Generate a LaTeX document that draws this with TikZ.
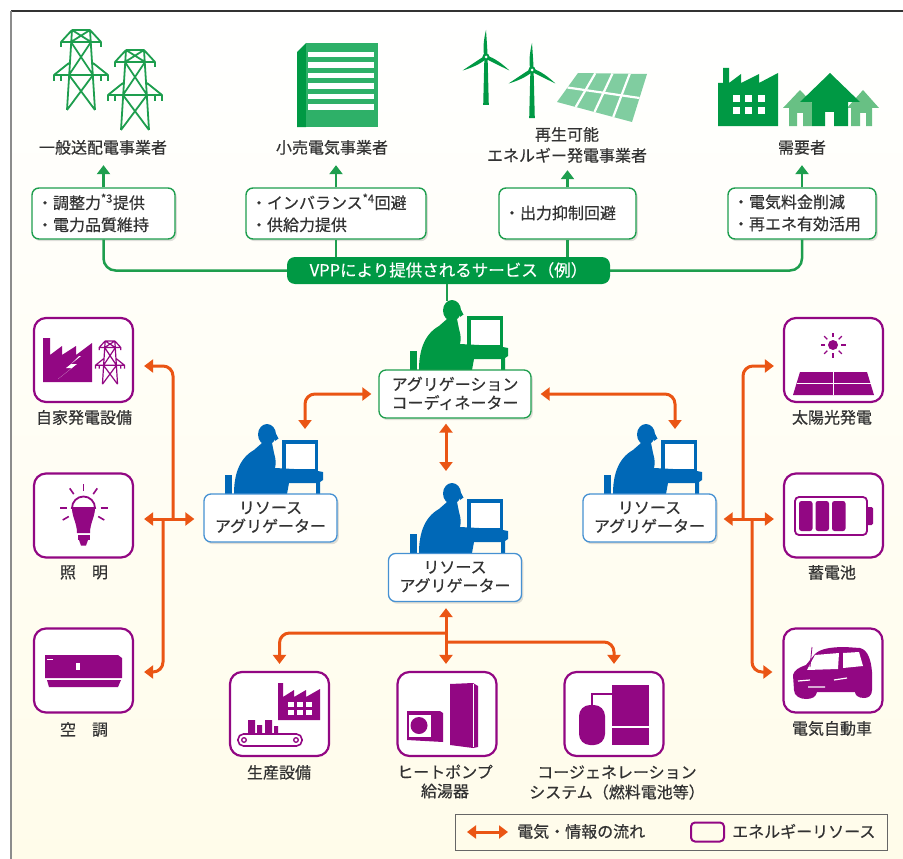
\documentclass[tikz,border=0pt]{standalone}
\usepackage{fontspec}
\newfontfamily\jpfont[FakeBold=0.45]{Noto Sans CJK JP}
\usetikzlibrary{arrows.meta,shadows,calc}

\definecolor{vgreen}{RGB}{0,153,68}
\definecolor{lgreen}{RGB}{30,158,78}
\definecolor{bgreen}{RGB}{46,176,104}
\definecolor{pgreen}{RGB}{128,205,160}
\definecolor{hgreen}{RGB}{104,192,132}
\definecolor{vblue}{RGB}{0,104,183}
\definecolor{bblue}{RGB}{70,145,210}
\definecolor{vorange}{RGB}{234,85,20}
\definecolor{vpurple}{RGB}{146,7,131}
\definecolor{txt}{RGB}{50,50,50}
\definecolor{cream}{RGB}{255,252,234}

% fixed line height for every text line
\newcommand{\linestrut}{\rule[-2.5pt]{0pt}{13.5pt}}

\tikzset{
  % lattice transmission tower, origin at the top of the cap
  pylon/.pic={
    \draw[line join=round]
      (-9,0) -- (9,0)
      (-9,0) -- (-14,80) (9,0) -- (14,80)
      (-9,0) -- (-20,12) -- (20,12) -- (9,0)
      (-20,12) -- (-20,17) (20,12) -- (20,17)
      (-12,33) -- (-27,45) -- (27,45) -- (12,33)
      (-27,45) -- (-27,51) (-20,45) -- (-20,51) (20,45) -- (20,51) (27,45) -- (27,51)
      (-9,0) -- (10,12) (9,0) -- (-10,12)
      (-10,12) -- (12,45) (10,12) -- (-12,45)
      (-12,45) -- (14,80) (12,45) -- (-14,80);
  },
  % wind turbine, origin at the hub
  turbine/.pic={
    \fill (-1.6,0) -- (1.6,0) -- (2.8,48) -- (-2.8,48) -- cycle;
    \foreach \a in {90,-30,210}{
      \fill[rotate=\a] (0,-1.6) .. controls (8,-3.4) and (18,-2.2) .. (27,0)
        .. controls (18,0.6) and (8,1.4) .. (0,1.6) -- cycle;
    }
    \fill (0,0) circle (3.6);
    \fill[white] (0,0) circle (1.5);
  },
  % operator at a desk, origin at the top-left corner
  worker/.pic={
    \fill (0,52) rectangle (7,71);
    \fill (57,17) rectangle (93,49);
    \fill[white] (60.5,20.5) rectangle (89.5,45.5);
    \fill (42,11.5) ellipse [x radius=9, y radius=10.5];
    \fill (49.5,8) -- (53.5,15.5) -- (50,18) -- cycle;
    \fill (9,71) .. controls (9,54) and (13,36) .. (29,27) -- (37,20) -- (47,20)
      -- (49,30) .. controls (51,36) and (51,41) .. (50,45) -- (88,47) -- (98,49)
      -- (98,57) -- (95,59) -- (95,71) -- (91,71) -- (91,60) -- (64,60) -- (62,71) -- cycle;
  },
  lbl/.style={font=\jpfont\fontsize{16}{19}\selectfont, text=txt, align=center, inner sep=0pt},
  svc/.style={draw=lgreen, line width=1.4pt, rounded corners=7pt, fill=white,
    drop shadow={shadow xshift=1.8pt, shadow yshift=-2.2pt, opacity=0.25},
    font=\jpfont\fontsize{16}{22}\selectfont, text=txt, align=left,
    inner xsep=5pt, inner ysep=0pt, minimum height=51pt},
  cbox/.style={draw=lgreen, line width=1.3pt, rounded corners=7pt, fill=white,
    drop shadow={shadow xshift=1.8pt, shadow yshift=-2.2pt, opacity=0.25},
    font=\jpfont\fontsize{16}{18.5}\selectfont, text=txt, align=center,
    inner sep=0pt, minimum height=48pt},
  abox/.style={cbox, draw=bblue, minimum width=133pt},
  vppbar/.style={fill=vgreen, rounded corners=8pt, minimum width=323pt, minimum height=27pt,
    inner sep=0pt, text=white, font=\jpfont\fontsize{16.5}{16.5}\selectfont},
  rbox/.style={draw=vpurple, line width=2.2pt, rounded corners=12pt, fill=white,
    minimum width=99pt, minimum height=84pt, inner sep=0pt},
  gline/.style={draw=lgreen, line width=2.5pt, rounded corners=12pt},
  garrow/.style={draw=lgreen, line width=2.5pt, -{Triangle[width=13pt,length=9pt]}},
  oline/.style={draw=vorange, line width=3pt, rounded corners=10pt},
  oto/.style={oline, -{Triangle[width=13pt,length=9pt]}},
  oarrow/.style={oline, {Triangle[width=13pt,length=9pt]}-{Triangle[width=13pt,length=9pt]}},
}

\begin{document}
\begin{tikzpicture}[x=1pt,y=-1pt]
\useasboundingbox (0,0) rectangle (903,859);
\fill[white] (0,0) rectangle (903,859);
\shade[top color=white, bottom color=cream] (11,11) rectangle (903,859);
\draw[black!80, line width=1.2pt] (11,11) -- (903,11);
\draw[black!45, line width=1.6pt] (11,11) -- (11,859);

% ---------- service recipients (top row) ----------
\pic[lgreen, line width=1.8pt] at (81,30) {pylon};
\pic[lgreen, line width=1.8pt] at (135,50) {pylon};

% retail building
\fill[vgreen] (297,52) -- (306,43) -- (306,127) -- (297,127) -- cycle;
\fill[bgreen] (306,43) rectangle (378,127);
\foreach \yy in {52,62.5,73,83.5,94,104.5}
  \fill[white] (308,\yy) rectangle (374,\yy+5.5);

% renewable generation
\pic[vgreen] at (486,57) {turbine};
\pic[vgreen] at (532,70) {turbine};
\fill[pgreen] (578,73) -- (647,74) -- (632,122) -- (557,102) -- cycle;
\foreach \t in {0.25,0.5,0.75}
  \draw[white, line width=2.2pt] ($(578,73)!\t!(647,74)$) -- ($(557,102)!\t!(632,122)$);
\draw[white, line width=2.2pt] ($(578,73)!0.5!(557,102)$) -- ($(647,74)!0.5!(632,122)$);

% consumers: factory and houses
\fill[vgreen] (718,126) -- (718,83) -- (723,83) -- (723,68) -- (729,68) -- (729,83)
  -- (741,74) -- (741,83) -- (759,74) -- (759,83) -- (778,73) -- (778,126) -- cycle;
\foreach \xx in {733,745,758}
  \foreach \yy in {95,107}
    \fill[white] (\xx,\yy) rectangle (\xx+7,\yy+7);
\fill[hgreen] (783,108) -- (800,90) -- (817,108) -- (812,108) -- (812,126) -- (803,126)
  -- (803,113) -- (797,113) -- (797,126) -- (789,126) -- (789,108) -- cycle;
\fill[hgreen] (847,108) -- (863,90) -- (879,108) -- (872,108) -- (872,126) -- (866,126)
  -- (866,113) -- (860,113) -- (860,126) -- (851,126) -- (851,108) -- cycle;
\fill[vgreen] (800,102) -- (830,73) -- (860,102) -- (848,102) -- (848,126) -- (834,126)
  -- (834,112) -- (825,112) -- (825,126) -- (812,126) -- (812,102) -- cycle;

\node[lbl] (t1) at (103,148) {\linestrut 一般送配電事業者};
\node[lbl] (t2) at (332,148) {\linestrut 小売電気事業者};
\node[lbl, font=\jpfont\fontsize{16}{21}\selectfont] (t3) at (567,145.5) {\linestrut 再生可能\\\linestrut エネルギー発電事業者};
\node[lbl] (t4) at (802,148) {\linestrut 需要者};

% ---------- services ----------
\node[svc, text width=133pt] (s1) at (103.5,213.5) {\linestrut ・調整力\textsuperscript{*3}提供\\\linestrut ・電力品質維持};
\node[svc, text width=170pt] (s2) at (336,213.5) {\linestrut ・インバランス\textsuperscript{*4}回避\\\linestrut ・供給力提供};
\node[svc, text width=127pt] (s3) at (567.5,213.5) {\linestrut ・出力抑制回避};
\node[svc, text width=138pt] (s4) at (802,213.5) {\linestrut ・電気料金削減\\\linestrut ・再エネ有効活用};

\draw[garrow, shorten >=9pt] (s1.north) -- (s1.north |- t1.south);
\draw[garrow, shorten >=9pt] (s2.north) -- (s2.north |- t2.south);
\draw[garrow, shorten >=6pt] (s3.north) -- (s3.north |- t3.south);
\draw[garrow, shorten >=9pt] (s4.north) -- (s4.north |- t4.south);

\node[vppbar] (vpp) at (448.5,270.5) {\linestrut VPPにより提供されるサービス（例）};
\draw[gline] (s1.south) |- (vpp.west);
\draw[gline] (s2.south) -- (s2.south |- vpp.north);
\draw[gline] (s3.south) -- (s3.south |- vpp.north);
\draw[gline] (s4.south) |- (vpp.east);

\coordinate (coordHead) at (447,301);
\draw[draw=lgreen, line width=2.5pt] (vpp.south -| coordHead) -- (coordHead);

% ---------- coordinator and aggregators ----------
\pic[vgreen] at (410,299) {worker};
\pic[vblue] at (225,423) {worker};
\pic[vblue] at (604,423) {worker};
\pic[vblue] at (410,482) {worker};

\node[cbox, minimum width=152pt] (coord) at (455,394) {\linestrut アグリゲーション\\\linestrut コーディネーター};
\node[abox] (aggL) at (270.5,518) {\linestrut リソース\\\linestrut アグリゲーター};
\node[abox] (aggR) at (649.5,518) {\linestrut リソース\\\linestrut アグリゲーター};
\node[abox] (aggM) at (455,577.5) {\linestrut リソース\\\linestrut アグリゲーター};

% ---------- energy resources ----------
\node[rbox] (rJika) at (83.5,360) {};
\node[rbox] (rLight) at (83.5,515.5) {};
\node[rbox] (rAC) at (83.5,670.5) {};
\node[rbox] (rSolar) at (833.5,360) {};
\node[rbox] (rBatt) at (833.5,515.5) {};
\node[rbox] (rEV) at (833,670.5) {};
\node[rbox] (rProd) at (279.5,714) {};
\node[rbox] (rHP) at (447,714) {};
\node[rbox] (rCogen) at (614,714) {};

\node[lbl] (lJika) at (84,418) {\linestrut 自家発電設備};
\node[lbl] (lLight) at (84,573) {\linestrut 照　明};
\node[lbl] (lAC) at (84,730) {\linestrut 空　調};
\node[lbl] (lSolar) at (832,418) {\linestrut 太陽光発電};
\node[lbl] (lBatt) at (832,573) {\linestrut 蓄電池};
\node[lbl] (lEV) at (832,729) {\linestrut 電気自動車};
\node[lbl] (lProd) at (279,773) {\linestrut 生産設備};
\node[lbl] (lHP) at (445,782) {\linestrut ヒートポンプ\\\linestrut 給湯器};
\node[lbl, font=\jpfont\fontsize{16}{20}\selectfont] (lCogen) at (617,783) {\linestrut コージェネレーション\\\linestrut システム（燃料電池等）};

% private generation: factory with bolt and small tower
\fill[vpurple] (43,382) -- (43,338) -- (50,338) -- (50,355) -- (62,346) -- (62,355)
  -- (76,346) -- (76,355) -- (92,343) -- (92,382) -- cycle;
\fill[white] (81,356) -- (66,368) -- (72,368) -- (58,379) -- (77,364) -- (71,364) -- (79,356) -- cycle;
\pic[vpurple, line width=1.2pt, scale=0.54] at (110,341) {pylon};

% lighting
\fill[vpurple] (72,508) -- (95,508) .. controls (95,517) and (90,523) .. (90,533)
  -- (77,533) .. controls (77,523) and (72,517) .. (72,508) -- cycle;
\draw[vpurple, line width=1.8pt, fill=white] (72,508) arc[start angle=180, end angle=360, radius=11.5] -- cycle;
\fill[vpurple] (77.5,534.5) rectangle (89.5,540);
\fill[vpurple] (79,540) -- (88,540) -- (86,545.5) -- (81,545.5) -- cycle;
\foreach \a in {270,235,305,180,0,150,30}
  \draw[vpurple, line width=1.6pt] (83.5,508) ++(\a:17) -- ++(\a:7);

% air conditioner
\fill[vpurple] (45,655) -- (118,655) -- (122,658) -- (122,678) -- (45,678) -- cycle;
\fill[vpurple] (47,680) -- (121,680) -- (118,687) -- (49,687) -- cycle;
\fill[white] (76,663) rectangle (80,669.5);
\draw[white, line width=0.8pt] (46.5,659) -- (53,659);

% photovoltaics
\fill[vpurple] (833,345) circle (5);
\foreach \a in {0,45,...,315}
  \draw[vpurple, line width=1.4pt] (833,345) ++(\a:8) -- ++(\a:4.5);
\fill[vpurple] (800,372) -- (867,372) -- (874,395) -- (793,395) -- cycle;
\draw[white, line width=1.5pt] (833.5,372) -- (833.5,395) (796.5,383.5) -- (870.5,383.5);

% storage battery
\draw[vpurple, line width=1.8pt, rounded corners=4pt] (795,497) rectangle (867,535);
\fill[vpurple, rounded corners=1.5pt] (866,507) rectangle (873,525);
\foreach \xx in {799,815.5,832}
  \fill[vpurple, rounded corners=2.5pt] (\xx,501) rectangle (\xx+13.5,531);

% electric vehicle
\fill[vpurple] (794,690) -- (793,675) .. controls (794,670) and (800,667) .. (806,665)
  -- (815,654) .. controls (820,649) and (830,647) .. (845,647) -- (860,648)
  .. controls (868,650) and (871,660) .. (872,672) -- (872,690)
  .. controls (872,696) and (868,698) .. (864,698) .. controls (858,698) and (855,695) .. (855,692)
  -- (817,692) .. controls (816,697) and (812,699) .. (806,699)
  .. controls (800,699) and (794,696) .. (794,690) -- cycle;
\fill[white] (815,655) -- (839,653) -- (838,669) -- (807,670) -- cycle;
\fill[white] (843,653) -- (859,652) -- (863,666) -- (843,668) -- cycle;
\draw[vpurple, line width=0.8pt] (810,667) -- (812,647);
\draw[white, line width=1.2pt] (798,681) -- (810,680) (834,680) -- (847,678) (808,687) -- (825,687);

% production equipment
\fill[vpurple] (278,720) -- (278,683) -- (283,683) -- (283,697) -- (294,690) -- (294,697)
  -- (306,690) -- (306,697) -- (320,689) -- (320,720) -- cycle;
\foreach \xx in {288,297,306}
  \foreach \yy in {702,710}
    \fill[white] (\xx,\yy) rectangle (\xx+6,\yy+5);
\draw[vpurple, line width=1.6pt, rounded corners=5.5pt] (238,734) rectangle (302,746);
\draw[vpurple, line width=1.3pt] (244,740) circle (2.3) (296,740) circle (2.3);
\fill[vpurple] (248,720) rectangle (255,733) (257,725) rectangle (262,733)
  (265,720) rectangle (272,733) (274,726) rectangle (278,733);

% heat pump water heater
\fill[vpurple] (407,711) -- (440,711) -- (443,713) -- (443,742) -- (407,740) -- cycle;
\fill[white] (409,714.5) rectangle (431,737);
\fill[vpurple] (419,725.5) circle (8.5);
\fill[vpurple] (450,684) -- (473,683) -- (478,686) -- (478,747) -- (473,748) -- (450,745) -- cycle;
\draw[white, line width=0.6pt] (473,684) -- (473,747);

% cogeneration
\fill[vpurple] (612,685) rectangle (649,745);
\draw[white, line width=2pt] (612,727) -- (649,727);
\fill[vpurple, rounded corners=11pt] (579,705) rectangle (605,745);
\draw[vpurple, line width=1.3pt] (592,705) -- (592,694) -- (612,694);

% ---------- flows of power and information ----------
\coordinate (pL) at (305,429);
\coordinate (pR) at (675,429);
\coordinate (spine) at (446,600);
\coordinate (pM) at (446,471);
\draw[oarrow] ([xshift=-7pt]coord.west) -| (pL);
\draw[oarrow] ([xshift=9pt]coord.east) -| (pR);
\draw[oarrow, shorten <=5pt] (coord.south -| spine) -- (pM);

\draw[oarrow, shorten <=6pt, shorten >=7pt] (aggM.south -| spine) -- (rHP.north -| spine);
\coordinate (jL) at (446,633);
\coordinate (jR) at (446,642);
\draw[oto, shorten >=7pt] (jL) -| (rProd.north);
\draw[oto, shorten >=7pt] (jR) -| (rCogen.north);

% left cluster
\coordinate (jLu) at (173,519);
\coordinate (jLd) at (163,519);
\draw[oarrow, shorten <=10pt, shorten >=9pt] (rLight.east |- jLu) -- (aggL.west |- jLu);
\draw[oto, shorten >=10pt] (jLu) |- ([yshift=-6pt]rJika.east);
\draw[oto, shorten >=10pt] (jLd) |- ([yshift=-1.5pt]rAC.east);

% right cluster
\coordinate (jRu) at (743,519);
\coordinate (jRd) at (752,519);
\draw[oarrow, shorten <=7pt, shorten >=9pt] (aggR.east |- jRu) -- (rBatt.west |- jRu);
\draw[oto, shorten >=9pt] (jRu) |- ([yshift=-6pt]rSolar.west);
\draw[oto, shorten >=10pt] (jRd) |- ([yshift=-1.5pt]rEV.west);

% ---------- legend ----------
\node[draw=black!60, line width=1pt, minimum width=432pt, minimum height=36pt, inner sep=0pt] (legend) at (671,832) {};
\coordinate (lgA) at (467,832);
\coordinate (lgB) at (508,832);
\draw[oarrow] (lgA) -- (lgB);
\node[lbl, anchor=west] (lgT1) at (517,832) {\linestrut 電気・情報の流れ};
\node[draw=vpurple, line width=2pt, rounded corners=4pt, minimum width=33pt, minimum height=19pt, inner sep=0pt] (lgBox) at (707.5,832) {};
\node[lbl, anchor=west] (lgT2) at (732,832) {\linestrut エネルギーリソース};
\end{tikzpicture}
\end{document}
